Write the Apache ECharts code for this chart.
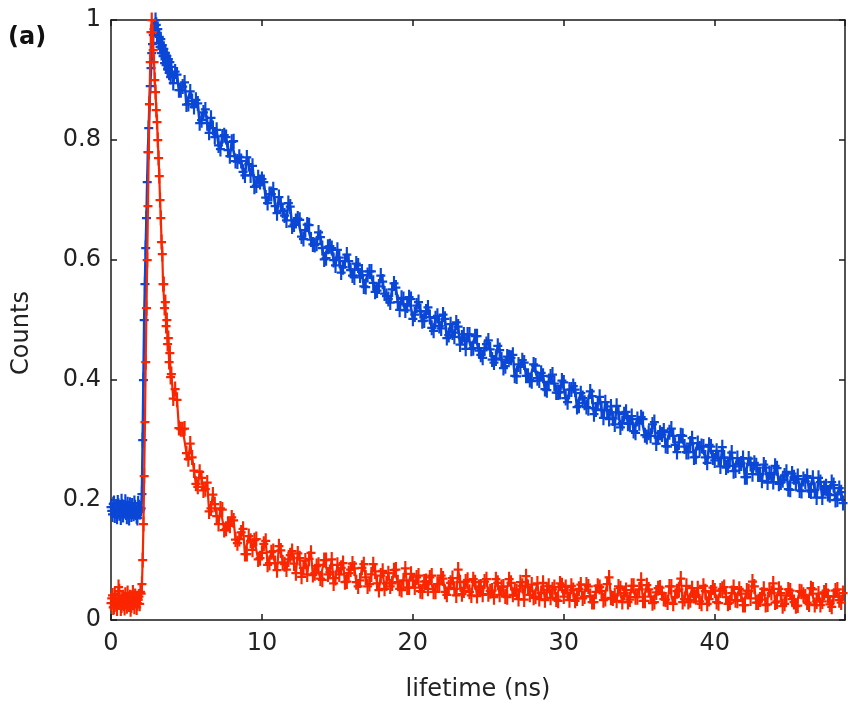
<!DOCTYPE html>
<html>
<head>
<meta charset="utf-8">
<script src="https://cdn.jsdelivr.net/npm/echarts@6/dist/echarts.min.js"></script>
<style>
html,body{margin:0;padding:0;background:#fff;}
#chart{width:848px;height:709px;}
</style>
</head>
<body>
<div id="chart"></div>
<script>
// time samples (ns)
var timeA = [0,0.1,0.2,0.3,0.4,0.5,0.6,0.7,0.8,0.9,1,1.1,1.2,1.3,1.4,1.5,1.6,1.7,1.8,1.9,2];
var timeA2 = [0.05,0.15,0.25,0.35,0.45,0.55,0.65,0.75,0.85,0.95,1.05,1.15,1.25,1.35,1.45,1.55,1.65,1.75,1.85,1.95];
var timeB = [2.05,2.1,2.15,2.2,2.25,2.3,2.35,2.4,2.45,2.5,2.55,2.6,2.65,2.7,2.75,2.8,2.85,2.9,2.95,3,
  3.05,3.1,3.15,3.2,3.25,3.3,3.35,3.4,3.45,3.5,3.55,3.6,3.65,3.7,3.75,3.8,3.85,3.9,3.95,4];
var timeC = [4.25,4.5,4.75,5,5.25,5.5,5.75,6,6.25,6.5,6.75,7,7.25,7.5,7.75,8,8.25,8.5,8.75,9,9.25,9.5,9.75,10,
  10.25,10.5,10.75,11,11.25,11.5,11.75,12,12.25,12.5,12.75,13,13.25,13.5,13.75,14,14.25,14.5,14.75,15,15.25,15.5,15.75,16,16.25,16.5,16.75,17,17.25,17.5,17.75,18,18.25,18.5,18.75,19,19.25,19.5,19.75,20,
  20.25,20.5,20.75,21,21.25,21.5,21.75,22,22.25,22.5,22.75,23,23.25,23.5,23.75,24,24.25,24.5,24.75,25,25.25,25.5,25.75,26,26.25,26.5,26.75,27,27.25,27.5,27.75,28,28.25,28.5,28.75,29,29.25,29.5,29.75,30,
  30.25,30.5,30.75,31,31.25,31.5,31.75,32,32.25,32.5,32.75,33,33.25,33.5,33.75,34,34.25,34.5,34.75,35,35.25,35.5,35.75,36,36.25,36.5,36.75,37,37.25,37.5,37.75,38,38.25,38.5,38.75,39,39.25,39.5,39.75,40,
  40.25,40.5,40.75,41,41.25,41.5,41.75,42,42.25,42.5,42.75,43,43.25,43.5,43.75,44,44.25,44.5,44.75,45,45.25,45.5,45.75,46,46.25,46.5,46.75,47,47.25,47.5,47.75,48,48.25,48.5];
var timeD = [4.125,4.375,4.625,4.875,5.125,5.375,5.625,5.875,6.125,6.375,6.625,6.875,7.125,7.375,7.625,7.875,8.125,8.375,8.625,8.875,9.125,9.375,9.625,9.875,
  10.125,10.375,10.625,10.875,11.125,11.375,11.625,11.875,12.125,12.375,12.625,12.875,13.125,13.375,13.625,13.875,14.125,14.375,14.625,14.875,15.125,15.375,15.625,15.875,16.125,16.375,16.625,16.875,17.125,17.375,17.625,17.875,18.125,18.375,18.625,18.875,19.125,19.375,19.625,19.875,
  20.125,20.375,20.625,20.875,21.125,21.375,21.625,21.875,22.125,22.375,22.625,22.875,23.125,23.375,23.625,23.875,24.125,24.375,24.625,24.875,25.125,25.375,25.625,25.875,26.125,26.375,26.625,26.875,27.125,27.375,27.625,27.875,28.125,28.375,28.625,28.875,29.125,29.375,29.625,29.875,
  30.125,30.375,30.625,30.875,31.125,31.375,31.625,31.875,32.125,32.375,32.625,32.875,33.125,33.375,33.625,33.875,34.125,34.375,34.625,34.875,35.125,35.375,35.625,35.875,36.125,36.375,36.625,36.875,37.125,37.375,37.625,37.875,38.125,38.375,38.625,38.875,39.125,39.375,39.625,39.875,
  40.125,40.375,40.625,40.875,41.125,41.375,41.625,41.875,42.125,42.375,42.625,42.875,43.125,43.375,43.625,43.875,44.125,44.375,44.625,44.875,45.125,45.375,45.625,45.875,46.125,46.375,46.625,46.875,47.125,47.375,47.625,47.875,48.125,48.375];

// blue series (normalized counts)
var blueA = [0.188,0.176,0.195,0.181,0.172,0.190,0.184,0.198,0.175,0.186,0.179,0.193,0.170,0.185,0.191,0.177,0.188,0.173,0.194,0.180,0.186];
var blueA2 = [0.182,0.193,0.174,0.187,0.196,0.178,0.171,0.189,0.183,0.197,0.172,0.181,0.192,0.176,0.184,0.195,0.179,0.170,0.188,0.183];
var blueB = [0.21,0.30,0.40,0.50,0.56,0.62,0.67,0.73,0.78,0.82,0.86,0.89,0.92,0.945,0.96,0.975,0.985,0.99,1.0,0.992,
  0.975,0.985,0.962,0.972,0.955,0.968,0.945,0.958,0.94,0.952,0.928,0.945,0.925,0.94,0.918,0.935,0.912,0.93,0.905,0.922];
var blueC = [0.914,0.883,0.889,0.859,0.881,0.855,0.861,0.833,0.851,0.812,0.820,0.817,0.785,0.808,0.783,0.797,0.765,0.772,0.747,0.771,0.741,0.722,0.738,0.735,
  0.704,0.710,0.718,0.678,0.694,0.674,0.695,0.656,0.665,0.667,0.635,0.659,0.634,0.625,0.646,0.620,0.603,0.623,0.600,0.617,0.579,0.598,0.598,0.574,0.594,0.574,0.556,0.575,0.581,0.547,0.556,0.564,0.540,0.529,0.561,0.530,0.537,0.516,0.538,0.502,
  0.524,0.515,0.499,0.521,0.487,0.503,0.490,0.509,0.470,0.493,0.472,0.489,0.471,0.452,0.476,0.453,0.473,0.442,0.453,0.466,0.434,0.436,0.450,0.420,0.439,0.437,0.407,0.426,0.433,0.407,0.400,0.426,0.403,0.412,0.385,0.397,0.409,0.379,0.380,0.396,
  0.363,0.384,0.384,0.357,0.370,0.355,0.381,0.343,0.361,0.350,0.363,0.335,0.336,0.357,0.321,0.343,0.327,0.340,0.312,0.328,0.335,0.305,0.307,0.330,0.304,0.309,0.290,0.313,0.307,0.280,0.308,0.289,0.280,0.303,0.272,0.286,0.289,0.262,0.289,0.266,
  0.270,0.288,0.254,0.270,0.248,0.270,0.261,0.238,0.269,0.243,0.258,0.243,0.259,0.229,0.243,0.257,0.227,0.233,0.247,0.217,0.238,0.240,0.215,0.231,0.216,0.237,0.204,0.230,0.220,0.210,0.230,0.200,0.220,0.195];
var blueD = [0.895,0.909,0.883,0.896,0.860,0.865,0.867,0.828,0.846,0.828,0.837,0.805,0.791,0.806,0.805,0.773,0.798,0.764,0.765,0.741,0.760,0.757,0.724,0.730,
  0.730,0.695,0.710,0.690,0.705,0.682,0.666,0.689,0.659,0.669,0.639,0.650,0.658,0.626,0.627,0.638,0.601,0.622,0.620,0.591,0.604,0.588,0.609,0.583,0.571,0.591,0.581,0.555,0.581,0.562,0.549,0.574,0.544,0.535,0.551,0.554,0.517,0.535,0.524,0.535,
  0.509,0.530,0.498,0.514,0.505,0.482,0.507,0.486,0.502,0.475,0.479,0.496,0.459,0.476,0.476,0.452,0.473,0.449,0.437,0.460,0.451,0.429,0.457,0.434,0.423,0.438,0.442,0.406,0.422,0.429,0.407,0.398,0.424,0.399,0.407,0.383,0.406,0.394,0.379,0.399,
  0.370,0.384,0.390,0.355,0.378,0.362,0.353,0.373,0.351,0.372,0.337,0.350,0.356,0.326,0.346,0.328,0.347,0.328,0.315,0.335,0.338,0.308,0.312,0.326,0.294,0.312,0.316,0.289,0.319,0.292,0.296,0.307,0.280,0.294,0.271,0.295,0.290,0.271,0.292,0.271,
  0.282,0.256,0.271,0.257,0.279,0.249,0.256,0.270,0.238,0.260,0.262,0.243,0.232,0.254,0.245,0.230,0.253,0.229,0.241,0.218,0.244,0.229,0.216,0.235,0.240,0.214,0.217,0.237,0.204,0.223,0.208,0.225,0.201,0.213];

// red series (normalized counts)
var redA = [0.028,0.041,0.022,0.035,0.019,0.055,0.030,0.024,0.038,0.020,0.033,0.045,0.026,0.018,0.037,0.029,0.040,0.021,0.034,0.027,0.044];
var redA2 = [0.036,0.021,0.043,0.026,0.032,0.048,0.019,0.035,0.027,0.042,0.023,0.031,0.038,0.024,0.046,0.022,0.033,0.028,0.039,0.047];
var redB = [0.06,0.10,0.16,0.24,0.33,0.43,0.52,0.60,0.69,0.78,0.86,0.93,0.98,1.0,0.98,0.95,0.93,0.90,0.88,0.85,
  0.83,0.80,0.77,0.74,0.70,0.67,0.63,0.61,0.56,0.56,0.52,0.53,0.49,0.50,0.46,0.47,0.43,0.445,0.405,0.41];
var redC = [0.385,0.320,0.318,0.278,0.294,0.249,0.222,0.237,0.218,0.181,0.209,0.173,0.186,0.150,0.160,0.171,0.134,0.135,0.152,0.110,0.132,0.133,0.101,0.112,
  0.132,0.095,0.115,0.083,0.116,0.093,0.101,0.115,0.078,0.103,0.087,0.076,0.112,0.078,0.092,0.067,0.100,0.080,0.061,0.092,0.087,0.063,0.078,0.094,0.063,0.066,0.093,0.056,0.076,0.081,0.050,0.082,0.061,0.056,0.083,0.063,0.050,0.086,0.054,0.066,
  0.071,0.048,0.064,0.052,0.074,0.047,0.060,0.069,0.042,0.062,0.052,0.084,0.043,0.064,0.047,0.068,0.040,0.056,0.064,0.043,0.049,0.068,0.042,0.056,0.038,0.062,0.051,0.035,0.057,0.073,0.042,0.037,0.061,0.045,0.033,0.057,0.051,0.034,0.061,0.039,
  0.045,0.057,0.032,0.052,0.036,0.059,0.040,0.030,0.057,0.048,0.035,0.071,0.036,0.032,0.053,0.045,0.030,0.057,0.038,0.051,0.032,0.058,0.039,0.030,0.053,0.045,0.034,0.056,0.027,0.048,0.069,0.035,0.030,0.053,0.038,0.031,0.057,0.027,0.046,0.049,
  0.028,0.052,0.038,0.029,0.055,0.032,0.044,0.025,0.048,0.064,0.029,0.034,0.052,0.026,0.045,0.029,0.052,0.023,0.041,0.049,0.030,0.024,0.047,0.039,0.026,0.051,0.031,0.025,0.046,0.040,0.022,0.049,0.033,0.045];
var redD = [0.369,0.367,0.318,0.319,0.268,0.271,0.227,0.247,0.216,0.229,0.186,0.193,0.160,0.184,0.152,0.157,0.166,0.128,0.146,0.110,0.140,0.117,0.135,0.103,
  0.127,0.092,0.113,0.095,0.123,0.096,0.084,0.108,0.094,0.111,0.072,0.099,0.102,0.075,0.090,0.069,0.100,0.076,0.101,0.070,0.076,0.095,0.064,0.084,0.086,0.056,0.087,0.071,0.060,0.093,0.061,0.074,0.052,0.078,0.061,0.084,0.052,0.066,0.054,0.077,
  0.054,0.074,0.047,0.065,0.071,0.047,0.060,0.074,0.047,0.054,0.070,0.041,0.063,0.049,0.067,0.041,0.063,0.055,0.042,0.068,0.048,0.038,0.062,0.055,0.039,0.068,0.042,0.048,0.063,0.034,0.055,0.059,0.039,0.035,0.062,0.050,0.037,0.055,0.032,0.058,
  0.055,0.033,0.050,0.036,0.059,0.039,0.056,0.030,0.047,0.055,0.033,0.060,0.037,0.041,0.056,0.030,0.050,0.034,0.057,0.038,0.067,0.032,0.051,0.028,0.046,0.054,0.035,0.029,0.056,0.038,0.051,0.030,0.057,0.033,0.040,0.053,0.027,0.048,0.035,0.054,
  0.030,0.049,0.055,0.027,0.045,0.033,0.052,0.025,0.049,0.036,0.056,0.029,0.042,0.025,0.050,0.061,0.031,0.045,0.027,0.051,0.035,0.023,0.048,0.042,0.029,0.053,0.025,0.044,0.031,0.049,0.026,0.039,0.051,0.029];

var xTicks = [0, 10, 20, 30, 40];
var yTicks = [0, 0.2, 0.4, 0.6, 0.8, 1];

function zip(ts, ys){ return ts.map(function(t,i){ return [t, ys[i]]; }); }
function build(parts){
  var all = [];
  parts.forEach(function(p){ all = all.concat(zip(p[0], p[1])); });
  all.sort(function(a,b){ return a[0]-b[0]; });
  return all;
}
var blueData = build([[timeA,blueA],[timeA2,blueA2],[timeB,blueB],[timeC,blueC],[timeD,blueD]]);
var redData = build([[timeA,redA],[timeA2,redA2],[timeB,redB],[timeC,redC],[timeD,redD]]);

var FONT = 'DejaVu Sans';
// "+" marker with a longer vertical (error) bar
var plus = 'path://M0,6.8L10,6.8L10,9.2L0,9.2Z M3.8,0L6.2,0L6.2,16L3.8,16Z';
var axisCol = '#1a1a1a';

var chart = echarts.init(document.getElementById('chart'), null, {renderer:'canvas'});
var baseX = {type:'value', min:0, max:48.63, interval:10,
  axisLine:{show:true, onZero:false, lineStyle:{color:axisCol, width:1.5}},
  axisTick:{show:true, inside:true, length:6, lineStyle:{color:axisCol, width:1.5}},
  splitLine:{show:false}};
var baseY = {type:'value', min:0, max:1, interval:0.2,
  axisLine:{show:true, onZero:false, lineStyle:{color:axisCol, width:1.5}},
  axisTick:{show:true, inside:true, length:6, lineStyle:{color:axisCol, width:1.5}},
  splitLine:{show:false}};

chart.setOption({
  animation:false,
  backgroundColor:'#ffffff',
  grid:{left:111, top:20, right:-1, bottom:89, containLabel:false},
  xAxis:[
    Object.assign({}, baseX, {position:'bottom',
      axisLabel:{show:true, margin:12, fontFamily:FONT, fontSize:24, color:'#222',
        formatter:function(v){ return xTicks.indexOf(v) >= 0 ? String(v) : ''; }}}),
    Object.assign({}, baseX, {position:'top', axisLabel:{show:false}})
  ],
  yAxis:[
    Object.assign({}, baseY, {position:'left',
      axisLabel:{show:true, margin:10, fontFamily:FONT, fontSize:24, color:'#222',
        formatter:function(v){ var r = Math.round(v*10)/10; return yTicks.indexOf(r) >= 0 ? String(r) : ''; }}}),
    Object.assign({}, baseY, {position:'right', axisLabel:{show:false}})
  ],
  graphic:[
    {type:'text', left:8, top:26, style:{text:'(a)', font:'bold 24px "DejaVu Sans"', fill:'#111'}},
    {type:'text', x:478, y:690, style:{text:'lifetime (ns)', font:'24px "DejaVu Sans"', fill:'#222', align:'center', verticalAlign:'middle'}},
    {type:'text', x:22, y:333, rotation:Math.PI/2, style:{text:'Counts', font:'24px "DejaVu Sans"', fill:'#222', align:'center', verticalAlign:'middle'}}
  ],
  series:[
    {type:'line', name:'blue', data:blueData, xAxisIndex:0, yAxisIndex:0,
      showAllSymbol:true, symbol:plus, symbolSize:[9,15],
      lineStyle:{color:'#0a47d6', width:2.6}, itemStyle:{color:'#0a47d6'}, z:2},
    {type:'line', name:'red', data:redData, xAxisIndex:0, yAxisIndex:0,
      showAllSymbol:true, symbol:plus, symbolSize:[9,15],
      lineStyle:{color:'#fa2600', width:2.2}, itemStyle:{color:'#fa2600'}, z:3}
  ]
});
</script>
</body>
</html>
